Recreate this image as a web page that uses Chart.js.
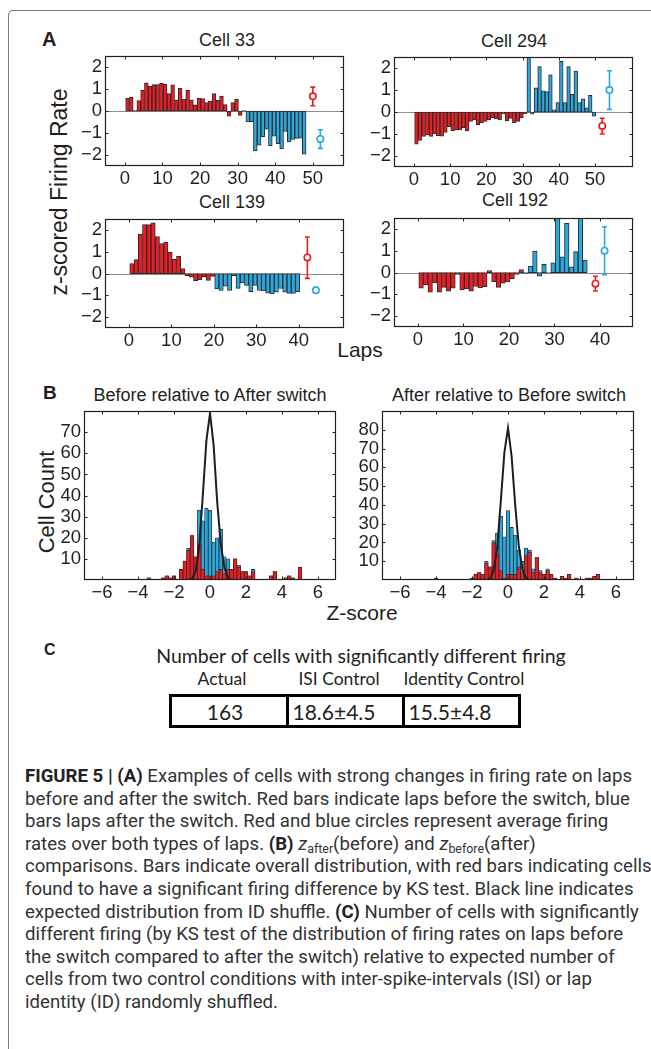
<!DOCTYPE html>
<html>
<head>
<meta charset="utf-8">
<script src="https://cdn.jsdelivr.net/npm/chart.js@4.4.0/dist/chart.umd.min.js"></script>
<style>
body{margin:0;background:#fff;}
#page{position:relative;width:651px;height:1049px;overflow:hidden;font-family:"Liberation Sans",Arial,sans-serif;color:#231f20;}
#frame{position:absolute;left:8px;top:10px;width:700px;height:1100px;border-top:1.5px solid #7a7a7a;border-left:1.5px solid #7a7a7a;border-top-left-radius:5px;}
canvas{position:absolute;}
.t{position:absolute;white-space:nowrap;transform:translate(-50%,-50%);line-height:1;}
.rot{transform:translate(-50%,-50%) rotate(-90deg);}
.lab{position:absolute;font-weight:bold;line-height:1;}
.tab{font-family:Lato,"Open Sans",sans-serif;}
#cap{position:absolute;left:25px;top:765px;font-family:Roboto,sans-serif;font-size:18px;color:#333;}
#cap div{white-space:nowrap;height:22.6px;line-height:22.6px;transform-origin:0 50%;}
#cap b{font-weight:bold;color:#222;}
#cap sub{font-size:12px;vertical-align:-3px;line-height:0;}
.cell{position:absolute;top:694px;height:34px;border:3px solid #000;box-sizing:border-box;}
</style>
</head>
<body>
<div id="page">
<div id="frame"></div>

<div class="lab" style="left:42px;top:29px;font-size:20px;">A</div>
<div class="t" style="left:227px;top:40px;font-size:18px;">Cell 33</div>
<div class="t" style="left:514px;top:41px;font-size:18px;">Cell 294</div>
<div class="t" style="left:232px;top:202px;font-size:18px;">Cell 139</div>
<div class="t" style="left:515px;top:200px;font-size:18px;">Cell 192</div>
<div class="t rot" style="left:59px;top:192px;font-size:23px;">z-scored Firing Rate</div>
<div class="t" style="left:360px;top:349px;font-size:21px;">Laps</div>

<div class="lab" style="left:43px;top:383px;font-size:19px;">B</div>
<div class="t" style="left:210px;top:395px;font-size:18px;">Before relative to After switch</div>
<div class="t" style="left:509px;top:395px;font-size:18px;">After relative to Before switch</div>
<div class="t rot" style="left:47px;top:502px;font-size:22px;">Cell Count</div>
<div class="t" style="left:362px;top:612px;font-size:21px;">Z-score</div>

<div class="lab" style="left:44px;top:642px;font-size:16px;">C</div>
<div class="t tab" style="left:361px;top:656px;font-size:19.5px;">Number of cells with significantly different firing</div>
<div class="t tab" style="left:222px;top:679px;font-size:17.5px;">Actual</div>
<div class="t tab" style="left:339px;top:679px;font-size:17.5px;">ISI Control</div>
<div class="t tab" style="left:464px;top:679px;font-size:17.5px;">Identity Control</div>
<div class="cell" style="left:169px;width:120px;"></div>
<div class="cell" style="left:286px;width:119px;"></div>
<div class="cell" style="left:402px;width:119px;"></div>
<div class="t tab" style="left:225px;top:711px;font-size:21px;">163</div>
<div class="t tab" style="left:334px;top:711px;font-size:21px;">18.6±4.5</div>
<div class="t tab" style="left:450px;top:711px;font-size:21px;">15.5±4.8</div>

<canvas id="c33"></canvas>
<canvas id="c294"></canvas>
<canvas id="c139"></canvas>
<canvas id="c192"></canvas>
<canvas id="bBefore"></canvas>
<canvas id="bAfter"></canvas>

<div id="cap">
<div><b>FIGURE 5 | (A)</b> Examples of cells with strong changes in firing rate on laps</div>
<div>before and after the switch. Red bars indicate laps before the switch, blue</div>
<div>bars laps after the switch. Red and blue circles represent average firing</div>
<div>rates over both types of laps. <b>(B)</b> <i>z</i><sub>after</sub>(before) and <i>z</i><sub>before</sub>(after)</div>
<div>comparisons. Bars indicate overall distribution, with red bars indicating cells</div>
<div>found to have a significant firing difference by KS test. Black line indicates</div>
<div>expected distribution from ID shuffle. <b>(C)</b> Number of cells with significantly</div>
<div>different firing (by KS test of the distribution of firing rates on laps before</div>
<div>the switch compared to after the switch) relative to expected number of</div>
<div>cells from two control conditions with inter-spike-intervals (ISI) or lap</div>
<div>identity (ID) randomly shuffled.</div>
</div>
</div>

<script>
'use strict';

// ---- panel A: z-scored firing rate per lap (red = before switch, blue = after)
const cell33 = [0.58,0.62,0.02,0.48,0.94,1.28,1.13,1.2,1.2,1.26,1.23,0.8,1.19,0.51,1.03,0.55,0.94,0.51,0.28,0.59,0.57,0.39,0.45,0.8,0.49,0.68,0.29,-0.23,0.38,0.54,-0.2,
  0.02,-0.5,-0.48,-1.81,-1.55,-1.16,-0.83,-1.58,-1.14,-1.48,-1.72,-0.93,-1.4,-1.29,-1.25,-1.23,-1.96];
const cell33Before = 31;
const cell33Means = [0.67,-1.27];
const cell33Lo = [0.24,-1.7];
const cell33Hi = [1.09,-0.85];

const cell294 = [-1.46,-1.29,-1.11,-1.04,-1.11,-1.0,-1.07,-1.1,-0.93,-0.67,-0.86,-0.81,-0.81,-0.71,-0.86,-0.43,-0.36,-0.57,-0.5,-0.43,-0.36,-0.26,-0.31,-0.36,-0.07,-0.4,-0.29,-0.5,-0.43,-0.26,-0.07,
  3.0,-0.1,1.1,2.07,0.96,0.93,1.69,0.1,0.43,2.31,0.43,2.07,0.81,1.86,0.43,0.6,0.19,0.76,-0.19];
const cell294Before = 31;
const cell294Means = [-0.63,1.0];
const cell294Lo = [-1.0,0.12];
const cell294Hi = [-0.28,1.88];

const cell139 = [0.46,0.64,1.81,2.25,2.25,2.33,1.7,1.38,1.45,0.99,0.65,0.8,0.23,-0.1,-0.17,-0.33,-0.29,-0.14,-0.32,-0.13,
  -0.71,-0.78,-0.58,-0.78,-0.1,-0.68,-0.43,-0.54,-0.83,-0.54,-0.78,-0.8,-0.9,-0.94,-0.86,-0.68,-0.86,-0.91,-0.91,-0.83];
const cell139Before = 20;
const cell139Means = [0.74,-0.77];
const cell139Lo = [-0.22,-0.9];
const cell139Hi = [1.68,-0.64];

const cell192 = [-0.72,-0.57,-0.9,-0.46,-0.9,-0.68,-0.86,-0.72,-0.09,-0.8,-0.75,-0.86,-0.64,-0.71,-0.65,0.09,-0.42,-0.68,-0.49,-0.43,-0.28,-0.09,0.14,
  -0.04,0.3,0.99,-0.17,0.38,-0.03,0.45,3.0,0.72,2.26,0.26,0.96,3.0,0.57];
const cell192Before = 23;
const cell192Means = [-0.51,1.0];
const cell192Lo = [-0.85,-0.1];
const cell192Hi = [-0.17,2.1];

const lapTicks50 = [0,10,20,30,40,50];
const lapTicks40 = [0,10,20,30,40];
const rateTicks = [-2,-1,0,1,2];

// ---- panel B: histograms of z-scores
const zBins = [-4,-3.8,-3.6,-3.4,-3.2,-3,-2.8,-2.6,-2.4,-2.2,-2,-1.8,-1.6,-1.4,-1.2,-1,-0.8,-0.6,-0.4,-0.2,
  0,0.2,0.4,0.6,0.8,1,1.2,1.4,1.6,1.8,2,2.2,2.4,2.6,2.8,3,3.2,3.4,3.6,3.8,4,4.2,4.4,4.6,4.8,5,5.2];
const beforeAll = [0,0,0,1,0,0,0,1,2,1,2,0,5,9,15,21,11,33,28,34,
  33,18,20,24,11,10,5,10,7,4,4,2,5,0,0,0,0,2,4,0,0,1,2,1,0,6,0];
const beforeSig = [0,0,0,1,0,0,0,1,2,1,2,0,5,9,14,21,11,17,5,2,
  2,2,4,5,3,5,5,10,6,4,4,2,4,0,0,0,0,2,4,0,0,1,2,1,0,6,0];
const afterAll = [1,0,0,0,0,0,0,0,0,0,1,3,4,3,10,7,21,25,34,23,
  37,28,24,16,10,17,16,6,12,5,3,6,3,1,0,2,1,3,0,1,0,0,1,1,2,3,0];
const afterSig = [1,0,0,0,0,0,0,0,0,0,1,3,4,3,9,7,20,14,5,1,
  3,3,3,7,4,13,15,4,12,4,3,5,3,1,0,2,1,3,0,1,0,0,1,1,2,3,0];
const shuffleZ = [-1.2,-1,-0.8,-0.6,-0.4,-0.2,0,0.2,0.4,0.6,0.8,1,1.2];
const beforeShuffle = [0,0.5,4,16,40,66,79,64,37,17,6,1,0];
const afterShuffle = [0,0.5,5,17,42,68,81,66,40,18,6,1,0];
const zTicks = [-6,-4,-2,0,2,4,6];
const countTicksBefore = [10,20,30,40,50,60,70];
const countTicksAfter = [10,20,30,40,50,60,70,80];

const RED = '#ec1c24';
const BLUE = '#29a9df';
const EDGE = '#2b2b2b';
const INK = '#231f20';

Chart.defaults.font.family = '"Liberation Sans", Arial, sans-serif';
Chart.defaults.color = INK;

// matlab style box, inward ticks, zero line and error bars
const matlabAxes = {
  id: 'matlabAxes',
  beforeDatasetsDraw(chart, args, opts) {
    const {ctx, chartArea: a, scales} = chart;
    ctx.save();
    if (opts.zeroLine) {
      const y0 = Math.round(scales.y.getPixelForValue(0)) + 0.5;
      ctx.strokeStyle = '#8c8c8c';
      ctx.lineWidth = 1;
      ctx.beginPath(); ctx.moveTo(a.left, y0); ctx.lineTo(a.right, y0); ctx.stroke();
    }
    chart.data.datasets.forEach(ds => {
      if (!ds.errLo) return;
      ds.data.forEach((p, i) => {
        const px = scales.x.getPixelForValue(p.x);
        const lo = scales.y.getPixelForValue(ds.errLo[i]);
        const hi = scales.y.getPixelForValue(ds.errHi[i]);
        ctx.strokeStyle = ds.pointBorderColor[i];
        ctx.lineWidth = 1.6;
        ctx.beginPath();
        ctx.moveTo(px, lo); ctx.lineTo(px, hi);
        ctx.moveTo(px - 2.5, lo); ctx.lineTo(px + 2.5, lo);
        ctx.moveTo(px - 2.5, hi); ctx.lineTo(px + 2.5, hi);
        ctx.stroke();
      });
    });
    ctx.restore();
  },
  afterDraw(chart) {
    const {ctx, chartArea: a, scales} = chart;
    const L = Math.round(a.left) + 0.5, R = Math.round(a.right) - 0.5;
    const T = Math.round(a.top) + 0.5, B = Math.round(a.bottom) - 0.5;
    ctx.save();
    ctx.strokeStyle = INK;
    ctx.lineWidth = 1.2;
    ctx.strokeRect(L, T, R - L, B - T);
    ctx.lineWidth = 1;
    ctx.beginPath();
    scales.x.ticks.forEach(t => {
      const px = Math.round(scales.x.getPixelForValue(t.value)) + 0.5;
      ctx.moveTo(px, B); ctx.lineTo(px, B - 3);
      ctx.moveTo(px, T); ctx.lineTo(px, T + 3);
    });
    scales.y.ticks.forEach(t => {
      const py = Math.round(scales.y.getPixelForValue(t.value)) + 0.5;
      ctx.moveTo(L, py); ctx.lineTo(L + 3, py);
      ctx.moveTo(R, py); ctx.lineTo(R - 3, py);
    });
    ctx.stroke();
    ctx.restore();
  }
};
Chart.register(matlabAxes);

const AX = 44, PT = 8, PR = 14, XB = 26;

function minusSign(v) {
  return String(v).replace('-', '\u2212');
}

function axisOpts(min, max, ticks, isX) {
  return {
    type: 'linear', min: min, max: max,
    grid: {display: false, drawTicks: false},
    border: {display: false},
    ticks: {font: {size: 18.5}, color: INK, padding: isX ? 2 : 3, maxRotation: 0, autoSkip: false, callback: minusSign},
    afterBuildTicks: s => { s.ticks = ticks.map(v => ({value: v})); },
    afterFit: s => { if (isX) s.height = XB; else s.width = AX; }
  };
}

function placeCanvas(id, l, t, w, h) {
  const cv = document.getElementById(id);
  cv.width = AX + w + PR;
  cv.height = PT + h + XB;
  cv.style.left = (l - AX) + 'px';
  cv.style.top = (t - PT) + 'px';
  return cv;
}

function lapChart(id, l, t, w, h, values, nBefore, means, lo, hi, xMax, xTicks) {
  const cv = placeCanvas(id, l, t, w, h);
  const n = values.length;
  new Chart(cv, {
    type: 'bar',
    data: {
      datasets: [{
        type: 'line',
        data: [{x: n + 2, y: means[0]}, {x: n + 4, y: means[1]}],
        showLine: false,
        pointRadius: 3.2,
        pointBorderWidth: 1.6,
        pointBorderColor: [RED, BLUE],
        pointBackgroundColor: '#fff',
        errLo: lo, errHi: hi,
        clip: false,
        order: 0
      }, {
        type: 'bar',
        data: values.map((v, i) => ({x: i + 0.7, y: v})),
        backgroundColor: values.map((v, i) => i < nBefore ? RED : BLUE),
        borderColor: EDGE,
        borderWidth: 1,
        borderSkipped: false,
        barPercentage: 1,
        categoryPercentage: 1,
        order: 1
      }]
    },
    options: {
      responsive: false,
      animation: false,
      layout: {padding: {left: 0, top: PT, right: PR, bottom: 0}},
      plugins: {legend: {display: false}, tooltip: {enabled: false}, matlabAxes: {zeroLine: true}},
      scales: {
        x: axisOpts(0, xMax, xTicks, true),
        y: axisOpts(-2.5, 2.5, rateTicks, false)
      }
    }
  });
}

function histChart(id, l, t, w, h, all, sig, shuffle, yMax, yTicks) {
  const cv = placeCanvas(id, l, t, w, h);
  new Chart(cv, {
    type: 'bar',
    data: {
      datasets: [{
        type: 'line',
        data: shuffleZ.map((z, i) => ({x: z, y: shuffle[i]})),
        borderColor: '#1e1e1e',
        borderWidth: 2,
        pointRadius: 0,
        tension: 0,
        order: 0
      }, {
        type: 'bar',
        data: zBins.map((z, i) => ({x: z, y: sig[i]})),
        backgroundColor: RED,
        borderColor: EDGE,
        borderWidth: 0.8,
        borderSkipped: false,
        barPercentage: 1,
        categoryPercentage: 1,
        grouped: false,
        order: 1
      }, {
        type: 'bar',
        data: zBins.map((z, i) => ({x: z, y: all[i]})),
        backgroundColor: BLUE,
        borderColor: EDGE,
        borderWidth: 0.8,
        borderSkipped: false,
        barPercentage: 1,
        categoryPercentage: 1,
        grouped: false,
        order: 2
      }]
    },
    options: {
      responsive: false,
      animation: false,
      layout: {padding: {left: 0, top: PT, right: PR, bottom: 0}},
      plugins: {legend: {display: false}, tooltip: {enabled: false}, matlabAxes: {zeroLine: false}},
      scales: {
        x: axisOpts(-6, 6, zTicks, true),
        y: axisOpts(0, yMax, yTicks, false)
      }
    }
  });
}

lapChart('c33', 105, 50, 239, 116, cell33, cell33Before, cell33Means, cell33Lo, cell33Hi, 53, lapTicks50);
lapChart('c294', 394, 51, 239, 116, cell294, cell294Before, cell294Means, cell294Lo, cell294Hi, 55, lapTicks50);
lapChart('c139', 105, 213, 239, 115, cell139, cell139Before, cell139Means, cell139Lo, cell139Hi, 45, lapTicks40);
lapChart('c192', 394, 212, 239, 115, cell192, cell192Before, cell192Means, cell192Lo, cell192Hi, 42, lapTicks40);

histChart('bBefore', 84, 405, 252, 175, beforeAll, beforeSig, beforeShuffle, 80, countTicksBefore);
histChart('bAfter', 382, 405, 252, 175, afterAll, afterSig, afterShuffle, 90, countTicksAfter);

// squeeze caption lines so the first one spans the same width as the original
const capLines = document.querySelectorAll('#cap div');
const span = document.createElement('span');
span.innerHTML = capLines[0].innerHTML;
span.style.whiteSpace = 'nowrap';
capLines[0].innerHTML = '';
capLines[0].appendChild(span);
const k = 607 / span.getBoundingClientRect().width;
capLines.forEach(d => { d.style.transform = 'scaleX(' + k + ')'; });
</script>
</body>
</html>
